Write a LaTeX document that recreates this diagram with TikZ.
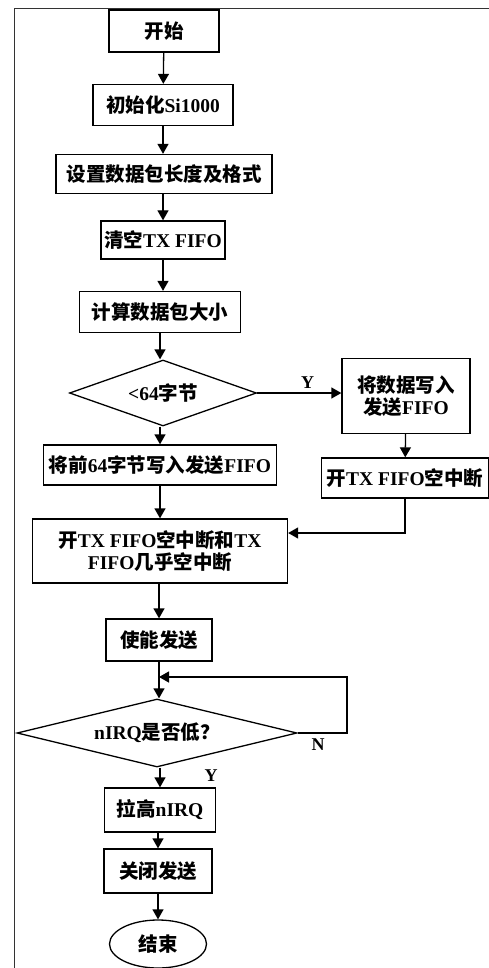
\documentclass[tikz,border=0pt]{standalone}
\usepackage{fontspec}
\setmainfont{Liberation Serif}
\newfontfamily\cjkf{Noto Sans CJK SC}
\newcommand\zhs[1]{{\cjkf #1}}
\usetikzlibrary{arrows.meta,shapes.geometric}
\begin{document}
\begin{tikzpicture}[x=1pt,y=-1pt,
  every node/.style={font=\bfseries\fontsize{19.5}{22}\selectfont, inner sep=0pt, align=center},
  box/.style={draw, line width=1.3pt},
  dia/.style={draw, line width=1.3pt, diamond, aspect=2.8},
  oval/.style={draw, line width=1.3pt, ellipse},
  lbl/.style={font=\bfseries\fontsize{18}{20}\selectfont},
  flow/.style={line width=1.3pt, -{Triangle[length=10pt,width=11pt]}},
  frame/.style={line width=1pt, draw=black!80}
]
\useasboundingbox (0,0) rectangle (489,968);
\draw[frame] (14,968) -- (14,9) -- (489,9);

\node[box, minimum width=110, minimum height=42] (start) at (164,31) {\zhs{开始}};
\node[box, minimum width=140, minimum height=41] (init) at (163,105) {\zhs{初始化}Si1000};
\node[box, minimum width=216, minimum height=39] (setup) at (164,174) {\zhs{设置数据包长度及格式}};
\node[box, minimum width=124, minimum height=38] (clear) at (163,240) {\zhs{清空}TX FIFO};
\node[box, minimum width=161, minimum height=41] (calc) at (160,312) {\zhs{计算数据包大小}};
\node[dia, minimum width=187, minimum height=66] (d1) at (163,393) {<64\zhs{字节}};
\node[box, minimum width=128, minimum height=75] (wall) at (406,396) {\zhs{将数据写入}\\\zhs{发送}FIFO};
\node[box, minimum width=167, minimum height=40] (openr) at (405,478) {\zhs{开}TX FIFO\zhs{空中断}};
\node[box, minimum width=233, minimum height=40] (w64) at (160,465) {\zhs{将前}64\zhs{字节写入发送}FIFO};
\node[box, minimum width=255, minimum height=64] (big) at (160,551) {\zhs{开}TX FIFO\zhs{空中断和}TX\\FIFO\zhs{几乎空中断}};
\node[box, minimum width=106, minimum height=42] (enable) at (159,640) {\zhs{使能发送}};
\node[dia, minimum width=280, minimum height=68] (d2) at (157,733) {nIRQ\zhs{是否低？}};
\node[box, minimum width=111, minimum height=44] (high) at (160,810) {\zhs{拉高}nIRQ};
\node[box, minimum width=108, minimum height=44] (close) at (158,871) {\zhs{关闭发送}};
\node[oval, minimum width=97, minimum height=48] (end) at (158,944) {\zhs{结束}};

\coordinate (m1) at (405,533);
\coordinate (l1) at (347,733);
\coordinate (l2) at (347,677);
\coordinate (l3) at (159,677);

\draw[flow] (start) -- (init);
\draw[flow] (init.south) -- (init.south |- setup.north);
\draw[flow] (setup.south) -- (setup.south -| clear.north) -- (clear.north);
\draw[flow] (clear) -- (calc.north -| clear.south);
\draw[flow] (calc.south) -- (d1.north -| calc.south);
\draw[flow] (d1.south -| calc.south) -- (w64.north);
\draw[flow] (d1.east) -- (d1.east -| wall.west) node[lbl, pos=0.6, above=4pt] {Y};
\draw[flow] (wall) -- (openr);
\draw[flow] (openr.south) -- (m1) -- (m1 -| big.east);
\draw[flow] (w64) -- (big);
\draw[flow] (big.south -| enable.north) -- (enable.north);
\draw[flow] (enable.south) -- (d2.north -| enable.south);
\draw[flow] (d2.east) -- (l1) -- (l2) -- (l3);
\draw[flow] (d2.south -| high.north) -- (high.north);
\node[lbl] (ylab) at (211,776) {Y};
\node[lbl] (nlab) at (318,745) {N};
\draw[flow] (high.south -| close.north) -- (close.north);
\draw[flow] (close) -- (end);
\end{tikzpicture}
\end{document}
